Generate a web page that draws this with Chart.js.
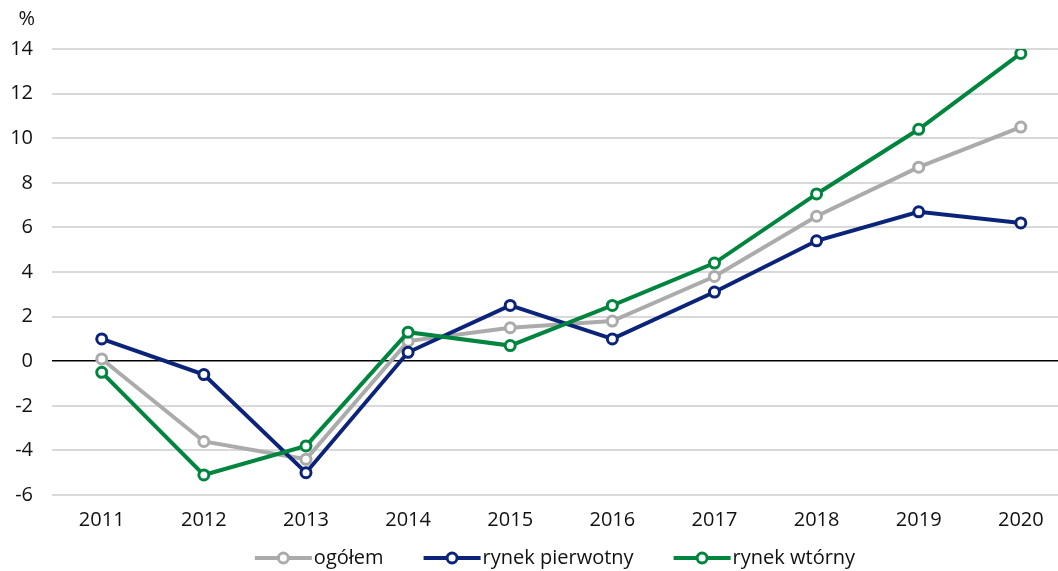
<!DOCTYPE html>
<html>
<head>
<meta charset="utf-8">
<script src="https://cdn.jsdelivr.net/npm/chart.js@4/dist/chart.umd.min.js"></script>
<style>
  html, body { margin: 0; padding: 0; background: #fff; overflow: hidden; }
  #wrap { width: 1058px; height: 571px; position: relative; }
</style>
</head>
<body>
<div id="wrap"><canvas id="c" width="1058" height="571"></canvas></div>
<script>
const years = [2011, 2012, 2013, 2014, 2015, 2016, 2017, 2018, 2019, 2020];
const ogolem = [0.1, -3.6, -4.4, 0.9, 1.5, 1.8, 3.8, 6.5, 8.7, 10.5];
const rynekPierwotny = [1.0, -0.6, -5.0, 0.4, 2.5, 1.0, 3.1, 5.4, 6.7, 6.2];
const rynekWtorny = [-0.5, -5.1, -3.8, 1.3, 0.7, 2.5, 4.4, 7.5, 10.4, 13.8];
const yTicks = [-6, -4, -2, 0, 2, 4, 6, 8, 10, 12, 14];
const seriesNames = ['ogółem', 'rynek pierwotny', 'rynek wtórny'];
const unitLabel = '%';

const FONT = '"Open Sans", "Noto Sans", sans-serif';
const FSIZE = 20;
const TEXT = '#111111';
const colors = ['#ABABAB', '#0B2479', '#00853F'];

function toPoints(vals) { return years.map((y, i) => ({ x: y, y: vals[i] })); }

function ds(label, vals, color, order) {
  return {
    label, data: toPoints(vals), order,
    borderColor: color, backgroundColor: '#ffffff',
    borderWidth: 4, pointRadius: 5, pointHoverRadius: 5,
    pointBorderWidth: 3, pointBackgroundColor: '#ffffff', pointBorderColor: color,
    tension: 0
  };
}

const legendPlugin = {
  id: 'customLegend',
  afterDraw(chart) {
    const ctx = chart.ctx;
    const area = chart.chartArea;
    ctx.save();
    ctx.font = FSIZE + 'px ' + FONT;
    ctx.textBaseline = 'middle';
    const markerW = 57, gap = 2, spacing = 40;
    const items = chart.data.datasets.map(d => ({ text: d.label, color: d.borderColor, w: ctx.measureText(d.label).width }));
    let total = 0;
    items.forEach((it, i) => { total += markerW + gap + it.w + (i ? spacing : 0); });
    let x = (area.left + area.right) / 2 - total / 2;
    const y = 558;
    items.forEach(it => {
      ctx.strokeStyle = it.color; ctx.lineWidth = 4;
      ctx.beginPath(); ctx.moveTo(x, y); ctx.lineTo(x + markerW, y); ctx.stroke();
      ctx.beginPath(); ctx.arc(x + markerW / 2, y, 5, 0, Math.PI * 2);
      ctx.fillStyle = '#fff'; ctx.fill(); ctx.lineWidth = 3; ctx.stroke();
      ctx.fillStyle = TEXT;
      ctx.textAlign = 'left';
      ctx.fillText(it.text, x + markerW + gap, y);
      x += markerW + gap + it.w + spacing;
    });
    ctx.textAlign = 'right';
    ctx.fillText(unitLabel, 35, 19);
    ctx.restore();
  }
};

new Chart(document.getElementById('c'), {
  type: 'line',
  data: {
    datasets: [
      ds(seriesNames[0], ogolem, colors[0], 2),
      ds(seriesNames[1], rynekPierwotny, colors[1], 1),
      ds(seriesNames[2], rynekWtorny, colors[2], 0)
    ]
  },
  options: {
    responsive: false,
    animation: false,
    layout: { autoPadding: false, padding: { left: 10, right: 0, top: 49, bottom: 26 } },
    plugins: { legend: { display: false }, tooltip: { enabled: false }, title: { display: false } },
    scales: {
      x: {
        type: 'linear', min: 2010.513, max: 2020.364,
        afterBuildTicks: s => { s.ticks = years.map(v => ({ value: v })); },
        afterFit: s => { s.paddingLeft = 0; s.paddingRight = 0; },
        ticks: { color: TEXT, font: { family: FONT, size: FSIZE }, padding: 13, callback: v => String(v), maxRotation: 0, autoSkip: false },
        grid: { display: false, drawTicks: false },
        border: { display: false }
      },
      y: {
        min: -6, max: 14,
        afterBuildTicks: s => { s.ticks = yTicks.map(v => ({ value: v })); },
        afterFit: s => { s.width = 42; s.paddingTop = 0; s.paddingBottom = 0; },
        ticks: { color: TEXT, font: { family: FONT, size: FSIZE }, padding: 19 },
        grid: {
          drawTicks: false,
          color: c => (c.tick && c.tick.value === 0) ? '#000000' : '#D9D9D9',
          lineWidth: c => (c.tick && c.tick.value === 0) ? 1.5 : 2
        },
        border: { display: false }
      }
    }
  },
  plugins: [legendPlugin]
});
</script>
</body>
</html>
